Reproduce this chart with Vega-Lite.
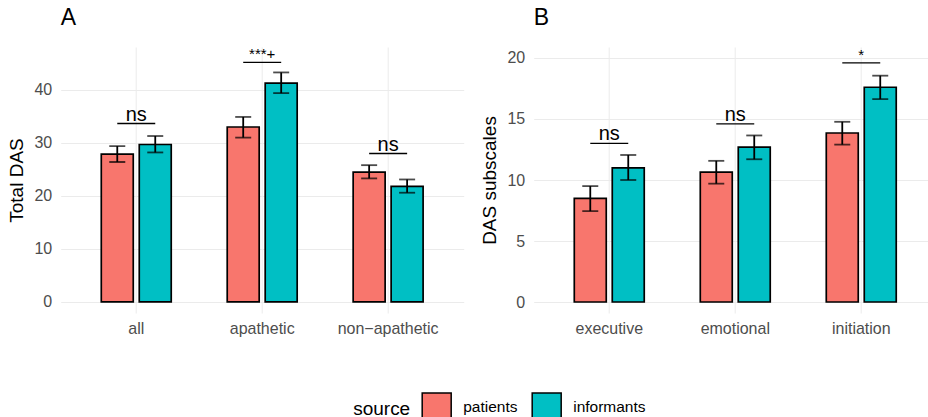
{
  "$schema": "https://vega.github.io/schema/vega-lite/v6.json",
  "background": "white",
  "padding": {"left": 7.7, "top": 7, "right": 0, "bottom": 0},
  "spacing": 17,
  "datasets": {
    "a": [
      {"cat": "all", "source": "patients", "mean": 27.9, "lo": 26.4, "hi": 29.4, "br": 33.65},
      {"cat": "all", "source": "informants", "mean": 29.7, "lo": 28.2, "hi": 31.3, "br": 33.65},
      {"cat": "apathetic", "source": "patients", "mean": 33.0, "lo": 31.0, "hi": 34.9, "br": 45.2},
      {"cat": "apathetic", "source": "informants", "mean": 41.3, "lo": 39.4, "hi": 43.3, "br": 45.2},
      {"cat": "non−apathetic", "source": "patients", "mean": 24.5, "lo": 23.3, "hi": 25.8, "br": 28.0},
      {"cat": "non−apathetic", "source": "informants", "mean": 21.8, "lo": 20.6, "hi": 23.1, "br": 28.0}
    ],
    "asig": [
      {"cat": "all", "br": 33.65, "label": "ns"},
      {"cat": "apathetic", "br": 45.2, "label": "***+"},
      {"cat": "non−apathetic", "br": 28.0, "label": "ns"}
    ],
    "b": [
      {"cat": "executive", "source": "patients", "mean": 8.5, "lo": 7.45, "hi": 9.5, "br": 13.0},
      {"cat": "executive", "source": "informants", "mean": 11.0, "lo": 10.0, "hi": 12.05, "br": 13.0},
      {"cat": "emotional", "source": "patients", "mean": 10.65, "lo": 9.7, "hi": 11.57, "br": 14.6},
      {"cat": "emotional", "source": "informants", "mean": 12.7, "lo": 11.7, "hi": 13.65, "br": 14.6},
      {"cat": "initiation", "source": "patients", "mean": 13.85, "lo": 12.9, "hi": 14.77, "br": 19.6},
      {"cat": "initiation", "source": "informants", "mean": 17.6, "lo": 16.63, "hi": 18.55, "br": 19.6}
    ],
    "bsig": [
      {"cat": "executive", "br": 13.0, "label": "ns"},
      {"cat": "emotional", "br": 14.6, "label": "ns"},
      {"cat": "initiation", "br": 19.6, "label": "*"}
    ]
  },
  "config": {
    "font": "Liberation Sans",
    "view": {"stroke": null},
    "axis": {
      "domain": false, "ticks": false, "tickSize": 0,
      "gridColor": "#ebebeb",
      "labelColor": "#4d4d4d", "labelFontSize": 16, "labelFont": "Liberation Sans",
      "titleFontSize": 19, "titleFontWeight": "normal", "titleColor": "#000000", "titleFont": "Liberation Sans"
    },
    "title": {"fontSize": 23, "fontWeight": "normal", "anchor": "start", "frame": "group", "color": "#000000", "font": "Liberation Sans", "baseline": "alphabetic", "offset": 17}
  },
  "resolve": {"scale": {"color": "shared"}},
  "hconcat": [
    {
      "width": 403, "height": 266,
      "title": {"text": "A", "frame": "group", "anchor": "start"},
      "layer": [
        {
          "data": {"name": "a"},
          "mark": {"type": "bar", "stroke": "black", "strokeWidth": 1.7},
          "encoding": {
            "x": {"field": "cat", "type": "nominal", "title": null, "sort": ["all", "apathetic", "non−apathetic"],
                  "scale": {"paddingInner": 0, "paddingOuter": 0.1},
                  "axis": {"grid": true, "bandPosition": 0.5, "labelAngle": 0, "labelPadding": 8, "gridWidth": 1}},
            "xOffset": {"field": "source", "type": "nominal", "sort": ["patients", "informants"],
                        "scale": {"paddingInner": 0.158, "paddingOuter": 0.737}},
            "y": {"field": "mean", "type": "quantitative", "title": "Total DAS",
                  "scale": {"domain": [-2.1, 48.1], "nice": false, "zero": false},
                  "axis": {"values": [0, 5, 10, 15, 20, 25, 30, 35, 40, 45],
                           "labelExpr": "datum.value % 10 === 0 ? datum.label : ''",
                           "gridWidth": {"condition": {"test": "datum.value % 10 === 0", "value": 1}, "value": 0.6},
                           "labelPadding": 9, "titlePadding": 7}},
            "y2": {"datum": 0},
            "color": {"field": "source", "type": "nominal",
                      "scale": {"domain": ["patients", "informants"], "range": ["#F8766D", "#00BFC4"]},
                      "legend": {"orient": "none", "legendX": 292.5, "legendY": 345, "direction": "horizontal",
                                 "title": "source", "titleOrient": "left", "titleFontSize": 19, "titleFontWeight": "normal",
                                 "titleColor": "#000000", "titlePadding": 10, "titleBaseline": "middle",
                                 "labelFontSize": 15.5, "labelColor": "#000000", "labelOffset": 11, "columnPadding": 11,
                                 "symbolType": "square", "symbolSize": 841, "symbolStrokeColor": "black",
                                 "symbolStrokeWidth": 1.5, "symbolOpacity": 1}}
          }
        },
        {
          "data": {"name": "a"},
          "mark": {"type": "rule", "color": "black", "strokeWidth": 1.8},
          "encoding": {
            "x": {"field": "cat", "type": "nominal", "title": null, "sort": ["all", "apathetic", "non−apathetic"]},
            "xOffset": {"field": "source", "type": "nominal", "sort": ["patients", "informants"]},
            "y": {"field": "lo", "type": "quantitative", "title": "Total DAS", "scale": {"domain": [-2.1, 48.1], "nice": false, "zero": false}},
            "y2": {"field": "hi"}
          }
        },
        {
          "data": {"name": "a"},
          "mark": {"type": "tick", "color": "black", "size": 16, "thickness": 1.8},
          "encoding": {
            "x": {"field": "cat", "type": "nominal", "title": null, "sort": ["all", "apathetic", "non−apathetic"]},
            "xOffset": {"field": "source", "type": "nominal", "sort": ["patients", "informants"]},
            "y": {"field": "lo", "type": "quantitative", "title": "Total DAS", "scale": {"domain": [-2.1, 48.1], "nice": false, "zero": false}}
          }
        },
        {
          "data": {"name": "a"},
          "mark": {"type": "tick", "color": "black", "size": 16, "thickness": 1.8},
          "encoding": {
            "x": {"field": "cat", "type": "nominal", "title": null, "sort": ["all", "apathetic", "non−apathetic"]},
            "xOffset": {"field": "source", "type": "nominal", "sort": ["patients", "informants"]},
            "y": {"field": "hi", "type": "quantitative", "title": "Total DAS", "scale": {"domain": [-2.1, 48.1], "nice": false, "zero": false}}
          }
        },
        {
          "data": {"name": "a"},
          "mark": {"type": "line", "color": "black", "strokeWidth": 1.4},
          "encoding": {
            "x": {"field": "cat", "type": "nominal", "title": null, "sort": ["all", "apathetic", "non−apathetic"]},
            "xOffset": {"field": "source", "type": "nominal", "sort": ["patients", "informants"]},
            "y": {"field": "br", "type": "quantitative", "title": "Total DAS", "scale": {"domain": [-2.1, 48.1], "nice": false, "zero": false}},
            "detail": {"field": "cat"}
          }
        },
        {
          "data": {"name": "asig"},
          "transform": [{"filter": "datum.label === 'ns'"}],
          "mark": {"type": "text", "fontSize": 20, "baseline": "alphabetic", "dy": -3, "color": "black"},
          "encoding": {
            "x": {"field": "cat", "type": "nominal", "title": null, "sort": ["all", "apathetic", "non−apathetic"]},
            "y": {"field": "br", "type": "quantitative", "title": "Total DAS", "scale": {"domain": [-2.1, 48.1], "nice": false, "zero": false}},
            "text": {"field": "label"}
          }
        },
        {
          "data": {"name": "asig"},
          "transform": [{"filter": "datum.label !== 'ns'"}],
          "mark": {"type": "text", "fontSize": 15, "baseline": "alphabetic", "dy": -3, "color": "black"},
          "encoding": {
            "x": {"field": "cat", "type": "nominal", "title": null, "sort": ["all", "apathetic", "non−apathetic"]},
            "y": {"field": "br", "type": "quantitative", "title": "Total DAS", "scale": {"domain": [-2.1, 48.1], "nice": false, "zero": false}},
            "text": {"field": "label"}
          }
        }
      ]
    },
    {
      "width": 394, "height": 266,
      "title": {"text": "B", "frame": "group", "anchor": "start"},
      "layer": [
        {
          "data": {"name": "b"},
          "mark": {"type": "bar", "stroke": "black", "strokeWidth": 1.7},
          "encoding": {
            "x": {"field": "cat", "type": "nominal", "title": null, "sort": ["executive", "emotional", "initiation"],
                  "scale": {"paddingInner": 0, "paddingOuter": 0.0635, "align": 0.7875},
                  "axis": {"grid": true, "bandPosition": 0.5, "labelAngle": 0, "labelPadding": 8, "gridWidth": 1}},
            "xOffset": {"field": "source", "type": "nominal", "sort": ["patients", "informants"],
                        "scale": {"paddingInner": 0.158, "paddingOuter": 0.737}},
            "y": {"field": "mean", "type": "quantitative", "title": "DAS subscales",
                  "scale": {"domain": [-0.9, 20.9], "nice": false, "zero": false},
                  "axis": {"values": [0, 2.5, 5, 7.5, 10, 12.5, 15, 17.5, 20],
                           "labelExpr": "datum.value % 5 === 0 ? datum.label : ''",
                           "gridWidth": {"condition": {"test": "datum.value % 5 === 0", "value": 1}, "value": 0.6},
                           "labelPadding": 9, "titlePadding": 7}},
            "y2": {"datum": 0},
            "color": {"field": "source", "type": "nominal",
                      "scale": {"domain": ["patients", "informants"], "range": ["#F8766D", "#00BFC4"]}}
          }
        },
        {
          "data": {"name": "b"},
          "mark": {"type": "rule", "color": "black", "strokeWidth": 1.8},
          "encoding": {
            "x": {"field": "cat", "type": "nominal", "title": null, "sort": ["executive", "emotional", "initiation"]},
            "xOffset": {"field": "source", "type": "nominal", "sort": ["patients", "informants"]},
            "y": {"field": "lo", "type": "quantitative", "title": "DAS subscales", "scale": {"domain": [-0.9, 20.9], "nice": false, "zero": false}},
            "y2": {"field": "hi"}
          }
        },
        {
          "data": {"name": "b"},
          "mark": {"type": "tick", "color": "black", "size": 16, "thickness": 1.8},
          "encoding": {
            "x": {"field": "cat", "type": "nominal", "title": null, "sort": ["executive", "emotional", "initiation"]},
            "xOffset": {"field": "source", "type": "nominal", "sort": ["patients", "informants"]},
            "y": {"field": "lo", "type": "quantitative", "title": "DAS subscales", "scale": {"domain": [-0.9, 20.9], "nice": false, "zero": false}}
          }
        },
        {
          "data": {"name": "b"},
          "mark": {"type": "tick", "color": "black", "size": 16, "thickness": 1.8},
          "encoding": {
            "x": {"field": "cat", "type": "nominal", "title": null, "sort": ["executive", "emotional", "initiation"]},
            "xOffset": {"field": "source", "type": "nominal", "sort": ["patients", "informants"]},
            "y": {"field": "hi", "type": "quantitative", "title": "DAS subscales", "scale": {"domain": [-0.9, 20.9], "nice": false, "zero": false}}
          }
        },
        {
          "data": {"name": "b"},
          "mark": {"type": "line", "color": "black", "strokeWidth": 1.4},
          "encoding": {
            "x": {"field": "cat", "type": "nominal", "title": null, "sort": ["executive", "emotional", "initiation"]},
            "xOffset": {"field": "source", "type": "nominal", "sort": ["patients", "informants"]},
            "y": {"field": "br", "type": "quantitative", "title": "DAS subscales", "scale": {"domain": [-0.9, 20.9], "nice": false, "zero": false}},
            "detail": {"field": "cat"}
          }
        },
        {
          "data": {"name": "bsig"},
          "transform": [{"filter": "datum.label === 'ns'"}],
          "mark": {"type": "text", "fontSize": 20, "baseline": "alphabetic", "dy": -3, "color": "black"},
          "encoding": {
            "x": {"field": "cat", "type": "nominal", "title": null, "sort": ["executive", "emotional", "initiation"]},
            "y": {"field": "br", "type": "quantitative", "title": "DAS subscales", "scale": {"domain": [-0.9, 20.9], "nice": false, "zero": false}},
            "text": {"field": "label"}
          }
        },
        {
          "data": {"name": "bsig"},
          "transform": [{"filter": "datum.label !== 'ns'"}],
          "mark": {"type": "text", "fontSize": 15, "baseline": "alphabetic", "dy": -3, "color": "black"},
          "encoding": {
            "x": {"field": "cat", "type": "nominal", "title": null, "sort": ["executive", "emotional", "initiation"]},
            "y": {"field": "br", "type": "quantitative", "title": "DAS subscales", "scale": {"domain": [-0.9, 20.9], "nice": false, "zero": false}},
            "text": {"field": "label"}
          }
        }
      ]
    }
  ]
}
